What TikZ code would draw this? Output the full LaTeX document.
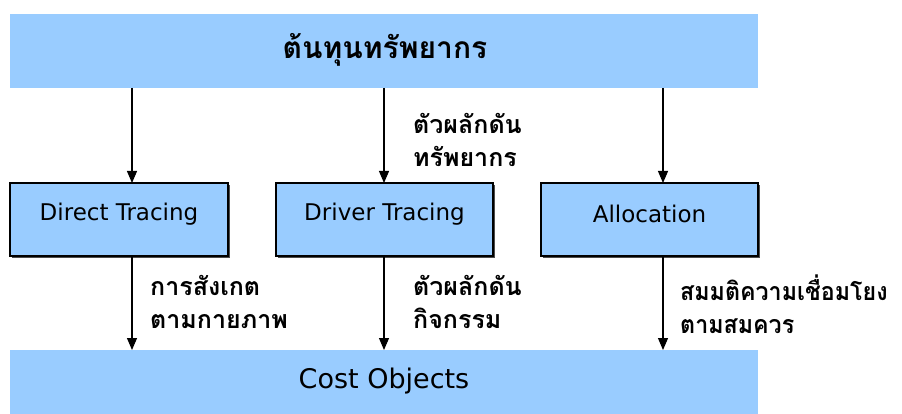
\documentclass[tikz,border=0pt]{standalone}
\usepackage{fontspec}
\setmainfont{DejaVu Sans}
\newfontfamily\thaifont[Script=Thai]{Loma}
\usetikzlibrary{arrows.meta}
\definecolor{bandblue}{HTML}{99CCFF}
\begin{document}
\begin{tikzpicture}[x=1pt,y=-1pt,
  band/.style={fill=bandblue,draw=none},
  proc/.style={fill=bandblue,draw=black,line width=1.2pt},
  boxtext/.style={font=\fontsize{23}{26}\selectfont},
  flow/.style={-{Triangle[length=12pt,width=10pt]},line width=1.1pt},
  lbl/.style={anchor=north west,align=left,font=\thaifont\bfseries\fontsize{25}{33}\selectfont,inner sep=0pt}]
\useasboundingbox (0,0) rectangle (902,414);
\fill[white] (0,0) rectangle (902,414);
% top band
\fill[band] (10,14) rectangle (758,88);
\node[font=\thaifont\bfseries\fontsize{30}{34}\selectfont] (top) at (385,50) {ต้นทุนทรัพยากร};
\coordinate (t1) at (132,88);
\coordinate (t2) at (384,88);
\coordinate (t3) at (663,88);
% boxes
\foreach \x/\w in {10/228,276/493,541/758}{
  \fill[black!70] (\x+2,185) rectangle (\w+2,258);
}
\draw[proc] (10,183) rectangle (228,256);
\draw[proc] (276,183) rectangle (493,256);
\draw[proc] (541,183) rectangle (758,256);
\node[boxtext] (b1) at (119,214) {Direct Tracing};
\node[boxtext] (b2) at (384.5,214) {Driver Tracing};
\node[boxtext] (b3) at (649.5,214) {Allocation};
\coordinate (b1t) at (132,183); \coordinate (b1b) at (132,256);
\coordinate (b2t) at (384,183); \coordinate (b2b) at (384,256);
\coordinate (b3t) at (663,183); \coordinate (b3b) at (663,256);
% bottom band
\fill[band] (10,350) rectangle (758,414);
\node[font=\fontsize{27}{30}\selectfont] (bot) at (384,381) {Cost Objects};
\coordinate (c1) at (132,350);
\coordinate (c2) at (384,350);
\coordinate (c3) at (663,350);
% arrows
\draw[flow] (t1) -- (b1t);
\draw[flow] (t2) -- (b2t);
\draw[flow] (t3) -- (b3t);
\draw[flow] (b1b) -- (c1);
\draw[flow] (b2b) -- (c2);
\draw[flow] (b3b) -- (c3);
% labels
\node[lbl] (l1) at (413,113) {ตัวผลักดัน\\ทรัพยากร};
\node[lbl] (l2) at (150,275) {การสังเกต\\ตามกายภาพ};
\node[lbl] (l3) at (413,275) {ตัวผลักดัน\\กิจกรรม};
\node[lbl] (l4) at (680,275) {\scalebox{0.93}[1]{สมมติความเชื่อมโยง}\\\scalebox{0.93}[1]{ตามสมควร}};
\end{tikzpicture}
\end{document}
